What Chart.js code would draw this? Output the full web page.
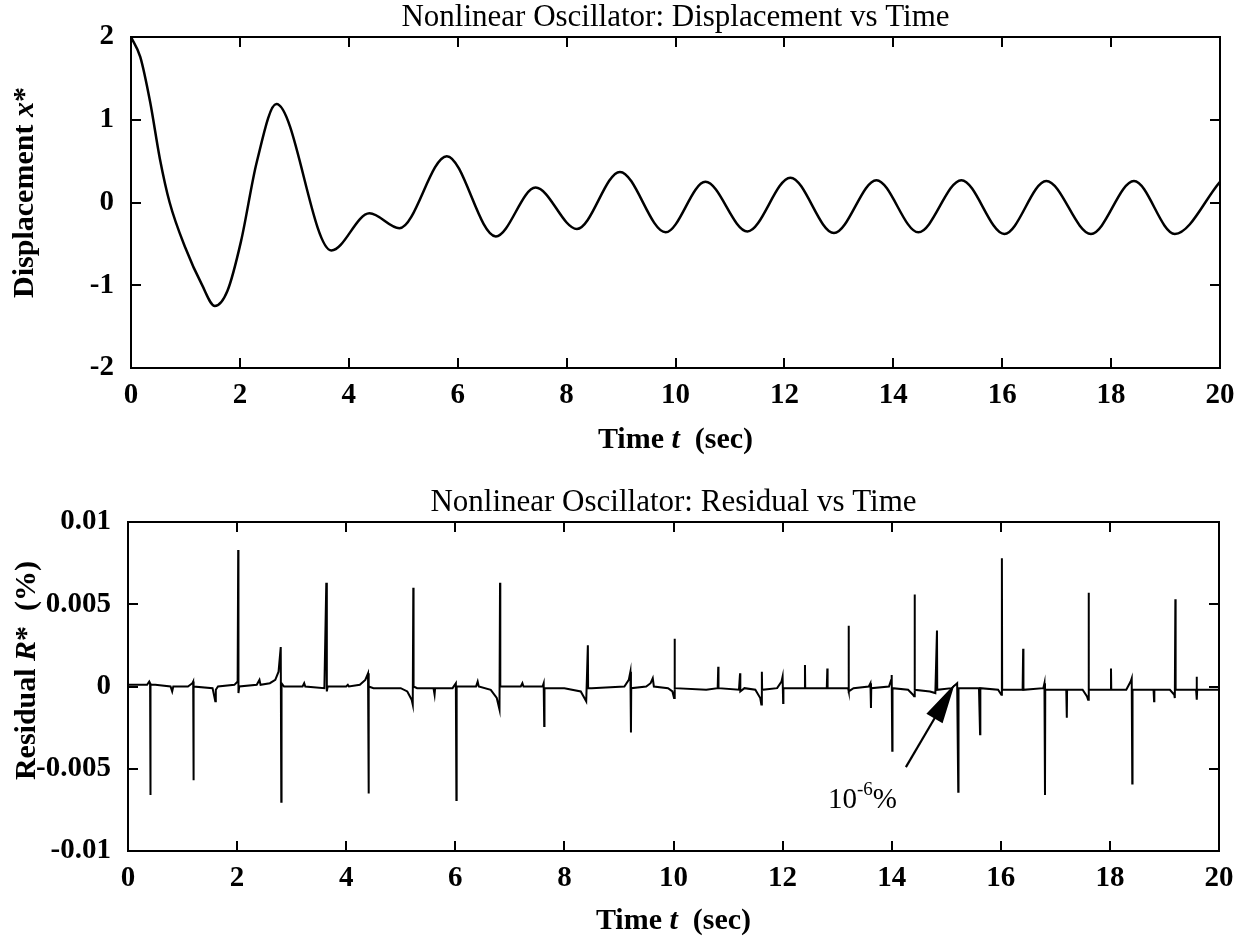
<!DOCTYPE html>
<html><head><meta charset="utf-8">
<script src="https://cdn.jsdelivr.net/npm/chart.js@4.4.0/dist/chart.umd.min.js"></script>
<style>
html,body{margin:0;padding:0;background:#fff;}
#wrap{position:relative;width:1247px;height:940px;background:#fff;overflow:hidden;}
canvas{position:absolute;left:0;}
</style></head><body>
<div id="wrap">
<canvas id="c1" width="1247" height="470" style="top:0px;width:1247px;height:470px"></canvas>
<canvas id="c2" width="1247" height="470" style="top:470px;width:1247px;height:470px"></canvas>
</div>
<script>
// ---------- data ----------
const dispT = [0, 0.17, 0.35, 0.53, 0.71, 1.0, 1.3, 1.54, 1.77, 2.02, 2.31, 2.67, 3.68, 4.38, 4.93, 5.8, 6.7, 7.43, 8.19, 8.98, 9.82, 10.55, 11.32, 12.11, 12.91, 13.69, 14.46, 15.25, 16.04, 16.81, 17.63, 18.42, 19.17, 20.0];
const dispX = [2.0, 1.76, 1.22, 0.53, 0.0, -0.55, -0.99, -1.25, -1.07, -0.47, 0.49, 1.19, -0.58, -0.13, -0.31, 0.56, -0.41, 0.18, -0.32, 0.37, -0.36, 0.25, -0.35, 0.30, -0.37, 0.27, -0.36, 0.27, -0.38, 0.26, -0.38, 0.26, -0.38, 0.25];

const resT = [0.00,0.35,0.39,0.405,0.41,0.415,0.5,0.78,0.81,0.83,1.1,1.18,1.195,1.2,1.205,1.55,1.6,1.61,1.65,1.95,2.01,2.02,2.025,2.04,2.36,2.41,2.43,2.6,2.7,2.76,2.8,2.81,2.815,2.86,3.2,3.23,3.25,3.6,3.635,3.645,3.66,4.0,4.03,4.05,4.25,4.35,4.4,4.41,4.415,4.5,5.0,5.12,5.2,5.22,5.23,5.235,5.3,5.6,5.62,5.63,5.95,6.01,6.02,6.025,6.38,6.41,6.43,6.65,6.76,6.81,6.82,6.825,6.9,7.2,7.23,7.25,7.6,7.62,7.63,7.635,8.0,8.3,8.4,8.43,8.435,8.5,9.1,9.18,9.21,9.22,9.225,9.5,9.58,9.62,9.64,9.9,9.98,10.01,10.02,10.025,10.6,10.81,10.82,10.825,11.2,11.22,11.225,11.3,11.5,11.59,11.61,11.62,11.625,11.9,11.98,12.0,12.01,12.015,12.4,12.41,12.415,12.81,12.82,12.825,13.2,13.21,13.215,13.3,13.58,13.61,13.62,13.625,13.95,13.99,14.0,14.01,14.015,14.3,14.39,14.41,14.42,14.425,14.7,14.8,14.83,14.835,15.1,15.2,15.22,15.225,15.6,15.62,15.625,15.95,16.01,16.02,16.025,16.4,16.41,16.415,16.78,16.8,16.81,16.815,17.2,17.21,17.215,17.5,17.58,17.6,17.61,17.615,18.01,18.02,18.025,18.3,18.38,18.4,18.41,18.415,18.8,18.81,18.815,19.1,19.18,19.19,19.2,19.205,19.58,19.59,19.595,19.6,20.0];
const resR = [0.0001,0.0001,0.0003,0.0002,-0.0066,0.0001,0.0001,0.0,-0.0003,0.0,0.0,0.0002,0.0003,-0.0057,0.0,-0.0001,-0.0009,-0.0002,0.0,0.0001,0.0003,0.0083,-0.0004,0.0,0.0001,0.0004,0.0001,0.0002,0.0004,0.0009,0.0024,-0.0070,0.0002,0.0,0.0,0.0002,0.0,-0.0001,0.0063,-0.0003,0.0,0.0,0.0001,0.0,0.0001,0.0004,0.0008,-0.0065,0.0,-0.0001,-0.0001,-0.0003,-0.0008,-0.0011,0.0060,0.0,-0.0001,-0.0001,-0.0005,-0.0001,-0.0001,0.0002,-0.0069,0.0,0.0,0.0003,0.0,-0.0002,-0.0007,-0.0014,0.0063,0.0,0.0,0.0,0.0002,0.0,0.0,0.0002,-0.0024,-0.0001,-0.0001,-0.0003,-0.0009,0.0025,-0.0001,-0.0001,0.0,0.0004,0.0009,-0.0028,-0.0001,0.0,0.0002,0.0005,0.0,-0.0001,-0.0003,-0.0007,0.0029,-0.0001,-0.0002,-0.0001,0.0012,-0.0001,-0.0002,0.0008,-0.0003,-0.0001,-0.0002,-0.0007,-0.0011,0.0009,-0.0002,-0.0001,0.0003,0.0006,-0.0010,-0.0001,-0.0001,0.0013,-0.0001,-0.0001,0.0011,-0.0001,-0.0001,0.0037,-0.0003,-0.0001,0.0,0.0002,-0.0013,-0.0001,0.0,0.0004,0.0007,-0.0039,-0.0001,-0.0002,-0.0005,-0.0006,0.0056,-0.0002,-0.0003,-0.0004,0.0034,-0.0002,-0.0001,0.0002,-0.0064,-0.0001,-0.0001,-0.0029,-0.0001,-0.0002,-0.0005,0.0078,-0.0002,-0.0002,0.0023,-0.0002,-0.0001,0.0002,-0.0066,-0.0002,-0.0002,-0.0019,-0.0002,-0.0002,-0.0006,-0.0008,0.0057,-0.0002,-0.0002,0.0011,-0.0002,-0.0002,0.0003,0.0005,-0.0059,-0.0002,-0.0002,-0.0009,-0.0002,-0.0002,-0.0005,-0.0007,0.0053,-0.0002,-0.0002,0.0006,-0.0008,-0.0002,-0.0002];

const timeTicks = [0, 2, 4, 6, 8, 10, 12, 14, 16, 18, 20];
const timeTickLabels = ['0','2','4','6','8','10','12','14','16','18','20'];
const dispTicks = [-2, -1, 0, 1, 2];
const dispTickLabels = ['-2','-1','0','1','2'];
const resTicks = [-0.01, -0.005, 0, 0.005, 0.01];
const resTickLabels = ['-0.01','-0.005','0','0.005','0.01'];

const title1 = 'Nonlinear Oscillator: Displacement vs Time';
const title2 = 'Nonlinear Oscillator: Residual vs Time';
const xTitleParts = [['Time ', false], ['t', true], ['  (sec)', false]];
const yTitle1Parts = [['Displacement ', false], ['x', true], ['*', false]];
const yTitle2Parts = [['Residual ', false], ['R', true], ['*  (%)', false]];
const noteParts = ['10', '-6', '%'];
const noteArrow = { tailT: 14.26, tailR: -0.0049, tipT: 15.11, tipR: -0.0001, textT: 12.83, textR: -0.0074 };

// ---------- styling ----------
const FAM = "'Liberation Serif', 'Times New Roman', serif";
Chart.defaults.font.family = FAM;
Chart.defaults.color = '#000';

function drawRich(ctx, parts, size, cx, cy, rotate) {
  ctx.save();
  ctx.translate(cx, cy);
  if (rotate) ctx.rotate(-Math.PI / 2);
  const fonts = parts.map(p => (p[1] ? 'italic ' : '') + 'bold ' + size + 'px ' + FAM);
  let total = 0;
  const widths = parts.map((p, i) => { ctx.font = fonts[i]; const w = ctx.measureText(p[0]).width; total += w; return w; });
  let x = -total / 2;
  ctx.fillStyle = '#000'; ctx.textAlign = 'left'; ctx.textBaseline = 'alphabetic';
  parts.forEach((p, i) => { ctx.font = fonts[i]; ctx.fillText(p[0], x, 0); x += widths[i]; });
  ctx.restore();
}

const framePlugin = {
  id: 'frameTicks',
  afterDatasetsDraw(chart, args, opts) {
    const {ctx, chartArea: a, scales: {x, y}} = chart;
    const L = 10;
    ctx.save();
    ctx.strokeStyle = '#000'; ctx.lineWidth = 2; ctx.lineCap = 'butt';
    ctx.strokeRect(a.left, a.top, a.width, a.height);
    ctx.beginPath();
    x.ticks.forEach(t => {
      const px = Math.round(x.getPixelForValue(t.value));
      ctx.moveTo(px, a.bottom); ctx.lineTo(px, a.bottom - L);
      ctx.moveTo(px, a.top); ctx.lineTo(px, a.top + L);
    });
    y.ticks.forEach(t => {
      const py = Math.round(y.getPixelForValue(t.value));
      ctx.moveTo(a.left, py); ctx.lineTo(a.left + L, py);
      ctx.moveTo(a.right, py); ctx.lineTo(a.right - L, py);
    });
    ctx.stroke();
    ctx.restore();
  },
  afterDraw(chart, args, opts) {
    const {ctx, chartArea: a} = chart;
    drawRich(ctx, xTitleParts, 30, (a.left + a.right) / 2, a.bottom + opts.xBase, false);
    drawRich(ctx, opts.yParts, 30, opts.yBase, (a.top + a.bottom) / 2 + opts.yShift, true);
  }
};

const notePlugin = {
  id: 'note',
  afterDraw(chart) {
    const {ctx, scales: {x, y}} = chart;
    const tx = x.getPixelForValue(noteArrow.tailT), ty = y.getPixelForValue(noteArrow.tailR);
    const hx = x.getPixelForValue(noteArrow.tipT), hy = y.getPixelForValue(noteArrow.tipR);
    const dx = hx - tx, dy = hy - ty, len = Math.hypot(dx, dy);
    const ux = dx / len, uy = dy / len, headLen = 34, headW = 8;
    const bx = hx - ux * headLen, by = hy - uy * headLen;
    ctx.save();
    ctx.strokeStyle = '#000'; ctx.fillStyle = '#000'; ctx.lineWidth = 2.2;
    ctx.beginPath(); ctx.moveTo(tx, ty); ctx.lineTo(bx, by); ctx.stroke();
    ctx.beginPath();
    ctx.moveTo(hx, hy);
    ctx.lineTo(bx - uy * headW, by + ux * headW);
    ctx.lineTo(bx + uy * headW, by - ux * headW);
    ctx.closePath(); ctx.fill(); ctx.stroke();
    // label 10^-6 %
    let lx = x.getPixelForValue(noteArrow.textT);
    const ly = y.getPixelForValue(noteArrow.textR);
    ctx.textBaseline = 'alphabetic'; ctx.textAlign = 'left';
    ctx.font = '29px ' + FAM; ctx.fillText(noteParts[0], lx, ly); lx += ctx.measureText(noteParts[0]).width;
    ctx.font = '19px ' + FAM; ctx.fillText(noteParts[1], lx, ly - 13); lx += ctx.measureText(noteParts[1]).width;
    ctx.font = '29px ' + FAM; ctx.fillText(noteParts[2], lx, ly);
    ctx.restore();
  }
};

function makeChart(id, cfg) {
  return new Chart(document.getElementById(id), {
    type: 'line',
    data: { datasets: [{ data: cfg.t.map((t, i) => ({x: t, y: cfg.v[i]})), borderColor: '#000', borderWidth: cfg.lw, pointRadius: 0, fill: false, tension: cfg.tension, cubicInterpolationMode: cfg.cim }] },
    options: {
      responsive: false, animation: false, devicePixelRatio: 1,
      layout: { padding: { left: 0, right: cfg.padRight, top: 0, bottom: 0 } },
      plugins: {
        legend: { display: false }, tooltip: { enabled: false },
        title: { display: true, text: cfg.title, fullSize: false, color: '#000',
                 font: { family: FAM, size: 31, weight: 'normal', lineHeight: 1 },
                 padding: { top: cfg.titleTop, bottom: 3.6 } },
        frameTicks: { xBase: cfg.xBase, yParts: cfg.yParts, yBase: cfg.yBase, yShift: cfg.yShift }
      },
      scales: {
        x: { type: 'linear', position: 'bottom', min: 0, max: 20,
             grid: { display: false }, border: { display: false },
             afterBuildTicks: s => { s.ticks = timeTicks.map(v => ({value: v})); },
             afterFit: s => { s.height = cfg.xHeight; },
             ticks: { padding: 2.6, maxRotation: 0, autoSkip: false, color: '#000',
                      font: { family: FAM, size: 29, weight: 'bold' },
                      callback: (v, i) => timeTickLabels[i] } },
        y: { type: 'linear', position: 'left', min: cfg.ymin, max: cfg.ymax,
             grid: { display: false }, border: { display: false },
             afterBuildTicks: s => { s.ticks = cfg.yTicks.map(v => ({value: v})); },
             afterFit: s => { s.width = cfg.yWidth; },
             ticks: { padding: 9, autoSkip: false, color: '#000',
                      font: { family: FAM, size: 29, weight: 'bold' },
                      callback: (v, i) => cfg.yLabels[i] } }
      }
    },
    plugins: cfg.plugins
  });
}

makeChart('c1', {
  t: dispT, v: dispX, lw: 2.5, tension: 0.4, cim: 'monotone',
  title: title1, titleTop: 2.4, padRight: 27, xHeight: 102, yWidth: 131,
  ymin: -2, ymax: 2, yTicks: dispTicks, yLabels: dispTickLabels,
  xBase: 80, yParts: yTitle1Parts, yBase: 33, yShift: -10,
  plugins: [framePlugin]
});

makeChart('c2', {
  t: resT, v: resR, lw: 2, tension: 0, cim: 'default',
  title: title2, titleTop: 17.4, padRight: 28, xHeight: 89, yWidth: 128,
  ymin: -0.01, ymax: 0.01, yTicks: resTicks, yLabels: resTickLabels,
  xBase: 78, yParts: yTitle2Parts, yBase: 35, yShift: -16,
  plugins: [framePlugin, notePlugin]
});
</script>
</body></html>
